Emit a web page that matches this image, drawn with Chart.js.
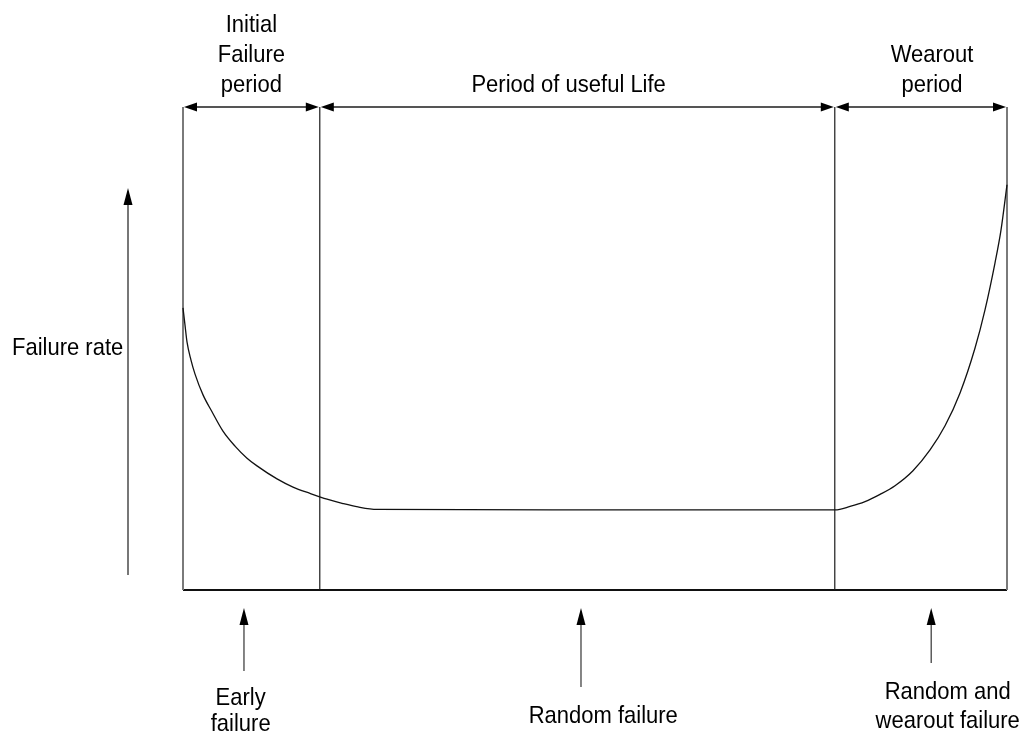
<!DOCTYPE html>
<html>
<head>
<meta charset="utf-8">
<script src="https://cdn.jsdelivr.net/npm/chart.js@4"></script>
<style>
  html, body { margin: 0; padding: 0; background: #fff; }
  #wrap { width: 1026px; height: 733px; }
</style>
</head>
<body>
<div id="wrap"><canvas id="bathtub" width="1026" height="733"></canvas></div>
<script>
// Bathtub curve (time 0..100, rate 0..100)
const timeX = [0, 0.24, 0.49, 0.97, 1.46, 2.43, 3.52, 4.85, 6.31, 7.77, 8.98, 11.41, 13.35, 15.41, 17.48, 19.42, 21.24, 23.54,
               50, 79.13, 80.95, 82.77, 84.59, 86.41, 88.59, 90.66, 92.48, 94.3, 96.12, 97.33, 98.54, 99.27, 100];
const failureRate = [58.4, 54.9, 51.3, 47.6, 44.7, 40.4, 36.9, 32.9, 29.8, 27.3, 25.7, 23.0, 21.3, 20.0, 18.8, 17.9, 17.2, 16.7,
                     16.6, 16.6, 17.3, 18.3, 19.8, 21.6, 24.7, 29.0, 34.0, 40.8, 50.1, 58.0, 67.7, 74.5, 83.9];

// Period boundaries on the time axis
const phaseBounds = [0, 16.6, 79.1, 100];
const phaseNames = [["Initial", "Failure", "period"], ["Period of useful Life"], ["Wearout", "period"]];
const failureTypes = [["Early", "failure"], ["Random failure"], ["Random and", "wearout failure"]];
const rateLabel = "Failure rate";

const ctx = document.getElementById("bathtub");

const curvePoints = timeX.map((x, i) => ({ x: x, y: failureRate[i] }));

function vLine(x, color, width) {
    return {
        data: [{ x: x, y: 0 }, { x: x, y: 100 }],
        borderColor: color, borderWidth: width,
        pointRadius: 0, showLine: true, clip: false
    };
}

const boundaryLines = phaseBounds.map((x, i) => {
    const outer = (i === 0 || i === phaseBounds.length - 1);
    return vLine(x, outer ? "#7a7a7a" : "#1a1a1a", outer ? 2 : 1.2);
});

// draws arrows and all text around the plot
const annotations = {
    id: "annotations",
    afterDatasetsDraw(chart) {
        const c = chart.ctx;
        const xs = chart.scales.x, ys = chart.scales.y;
        const area = chart.chartArea;
        const topY = ys.getPixelForValue(100);

        function text(t, cx, base) {
            c.save();
            c.translate(cx, base);
            c.scale(1, 1.1);
            c.fillText(t, 0, 0);
            c.restore();
        }
        function headLeft(x, y) { c.beginPath(); c.moveTo(x, y); c.lineTo(x + 13, y - 4.5); c.lineTo(x + 13, y + 4.5); c.closePath(); c.fill(); }
        function headRight(x, y) { c.beginPath(); c.moveTo(x, y); c.lineTo(x - 13, y - 4.5); c.lineTo(x - 13, y + 4.5); c.closePath(); c.fill(); }
        function headUp(x, y) { c.beginPath(); c.moveTo(x, y); c.lineTo(x - 4.5, y + 17); c.lineTo(x + 4.5, y + 17); c.closePath(); c.fill(); }

        c.save();
        c.fillStyle = "#000";
        c.font = "22px 'Liberation Sans', Arial, sans-serif";
        c.textAlign = "center";
        c.textBaseline = "alphabetic";

        // top double arrows
        for (let i = 0; i < phaseBounds.length - 1; i++) {
            const x0 = xs.getPixelForValue(phaseBounds[i]);
            const x1 = xs.getPixelForValue(phaseBounds[i + 1]);
            c.strokeStyle = "#555";
            c.lineWidth = 2;
            c.beginPath(); c.moveTo(x0 + 8, topY); c.lineTo(x1 - 8, topY); c.stroke();
            headLeft(x0 + 1, topY);
            headRight(x1 - 1, topY);
        }

        // period names
        const nameX = [8.3, 46.8, 90.9];
        phaseNames.forEach((lines, i) => {
            const cx = xs.getPixelForValue(nameX[i]);
            const n = lines.length;
            lines.forEach((t, j) => text(t, cx, topY - 15 - (n - 1 - j) * 30));
        });

        // vertical "failure rate" arrow
        const ax = area.left - 55;
        c.strokeStyle = "#777";
        c.lineWidth = 2;
        c.beginPath(); c.moveTo(ax, area.bottom - 15); c.lineTo(ax, 200); c.stroke();
        headUp(ax, 188);
        c.textAlign = "left";
        text(rateLabel, 12, 355);
        c.textAlign = "center";

        // bottom arrows and failure types
        const arrowX = [7.4, 48.3, 90.8];
        const arrowEnd = [671, 687, 663];
        const labelX = [7.0, 51.0, 92.8];
        const labelBase = [[705, 731], [723], [699, 728]];
        failureTypes.forEach((lines, i) => {
            const px = xs.getPixelForValue(arrowX[i]);
            c.strokeStyle = "#333";
            c.lineWidth = 1.2;
            c.beginPath(); c.moveTo(px, arrowEnd[i]); c.lineTo(px, 620); c.stroke();
            headUp(px, 608);
            const lx = xs.getPixelForValue(labelX[i]);
            lines.forEach((t, j) => text(t, lx, labelBase[i][j]));
        });
        c.restore();
    }
};

new Chart(ctx, {
    type: "scatter",
    data: {
        datasets: [
            {
                data: curvePoints,
                borderColor: "#111",
                borderWidth: 1.3,
                pointRadius: 0,
                showLine: true,
                cubicInterpolationMode: "monotone",
                clip: false
            },
            ...boundaryLines,
            {
                data: [{ x: 0, y: 0 }, { x: 100, y: 0 }],
                borderColor: "#111", borderWidth: 2,
                pointRadius: 0, showLine: true, clip: false
            }
        ]
    },
    options: {
        responsive: false,
        animation: false,
        layout: { padding: { left: 183, right: 19, top: 107, bottom: 143 } },
        plugins: { legend: { display: false }, tooltip: { enabled: false } },
        scales: {
            x: { type: "linear", min: 0, max: 100, display: false },
            y: { type: "linear", min: 0, max: 100, display: false }
        }
    },
    plugins: [annotations]
});
</script>
</body>
</html>
